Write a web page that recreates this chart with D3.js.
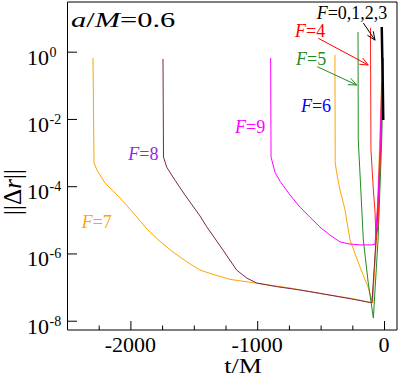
<!DOCTYPE html>
<html>
<head>
<meta charset="utf-8">
<script src="https://cdn.jsdelivr.net/npm/d3@7"></script>
<style>
  body { margin: 0; background: #fff; }
  svg { display: block; }
  svg text { font-family: "Times New Roman", Tinos, "Liberation Serif", Times, serif; }
</style>
</head>
<body>
<svg id="chart" width="399" height="377"></svg>
<script>
// each series: [t/M, ||dr||]
const f7 = [[-2295, 0.65], [-2287, 4.9e-4], [-2263, 3.0e-4], [-2200, 1.24e-4], [-2082, 4.5e-5],
  [-1964, 1.4e-5], [-1869, 5.3e-6], [-1767, 2.3e-6], [-1664, 1.1e-6], [-1554, 5.6e-7],
  [-1451, 3.2e-7], [-1333, 2.3e-7], [-1215, 1.7e-7], [-1002, 1.3e-7], [-741, 9.4e-8],
  [-505, 6.4e-8], [-268, 4.7e-8], [-95, 3.4e-8], [-64, 1.3e-6], [-36, 1.2e-3], [-16, 0.29]];

const f6 = [[-387, 0.8], [-385, 4.9e-4], [-373, 2.5e-4], [-347, 7.7e-5], [-308, 2.0e-5],
  [-268, 2.5e-6], [-190, 4.0e-7], [-126, 1.0e-7], [-89, 3.4e-8], [-56, 8.6e-6],
  [-24, 4.7e-3], [-14, 0.14]];

const f8 = [[-1743, 0.61], [-1739, 7.4e-4], [-1714, 3.7e-4], [-1648, 1.5e-4], [-1570, 5.5e-5],
  [-1451, 1.3e-5], [-1398, 6.2e-6], [-1270, 1.27e-6], [-1162, 3.2e-7], [-1083, 1.86e-7],
  [-1004, 1.32e-7], [-846, 1.03e-7], [-663, 8.2e-8], [-521, 6.7e-8], [-347, 5.1e-8],
  [-205, 4.1e-8], [-95, 3.4e-8], [-53, 9.9e-6], [-24, 2.4e-3], [-12, 0.2]];

const f5 = [[-205, 3.85], [-203, 2.4e-3], [-163, 2.5e-6], [-124, 1.3e-7], [-84, 1.2e-8],
  [-71, 8.2e-8], [-47, 2.5e-6], [-18, 2.4e-3], [-5, 0.65]];

const f4 = [[-107, 5.1], [-103, 1.2e-3], [-84, 7.7e-5], [-71, 1.7e-5], [-63, 2.5e-6],
  [-47, 7e-6], [-28, 1.2e-3], [-16, 0.1]];

const f9 = [[-894, 0.65], [-891, 7.4e-4], [-860, 2.6e-4], [-820, 1.4e-4], [-742, 5.5e-5],
  [-663, 2.4e-5], [-584, 1.2e-5], [-505, 6.1e-6], [-426, 3.5e-6], [-347, 2.2e-6],
  [-268, 1.9e-6], [-189, 1.8e-6], [-97, 1.8e-6], [-71, 1.9e-6], [-47, 3.9e-5],
  [-32, 1.2e-3], [-18, 0.117]];

const f0123 = [[-18, 5.4], [-10, 0.117], [-6, 9.3e-3]];

const xMajor = [-2000, -1000, 0];
const xMinor = [-2250, -1750, -1500, -1250, -750, -500, -250];
const yMajor = [1, 1e-2, 1e-4, 1e-6, 1e-8];
const yExp = ["0", "-2", "-4", "-6", "-8"];

// annotations: label text, colour, anchor point in data units
const labels = [
  { name: "0,1,2,3", color: "#000", t: -531, v: 9.2 },
  { name: "4", color: "#ff0000", t: -702, v: 2.68 },
  { name: "5", color: "#228b22", t: -694, v: 0.40 },
  { name: "6", color: "#0000ff", t: -655, v: 0.0158 },
  { name: "9", color: "#ff00ff", t: -1175, v: 3.7e-3 },
  { name: "8", color: "#8a2be2", t: -2017, v: 6.0e-4 },
  { name: "7", color: "#ffa500", t: -2384, v: 5.6e-6 }
];
const arrows = [
  { color: "#000", from: [-163, 7.1], to: [-71, 2.2] },
  { color: "#ff0000", from: [-518, 2.5], to: [-124, 0.40] },
  { color: "#228b22", from: [-526, 0.358], to: [-215, 0.102] }
];

const svg = d3.select("#chart");
const x = d3.scaleLinear().domain([-2500, 100]).range([67, 396.7]);
const y = d3.scaleLog().domain([5.3e-9, 30]).range([330, 2]);

// ticks (inward)
svg.append("g")
  .attr("transform", "translate(0,330)")
  .call(d3.axisBottom(x).tickValues(xMinor).tickSize(-4.5).tickFormat(""))
  .call((g) => g.select(".domain").remove());
svg.append("g")
  .attr("transform", "translate(0,330)")
  .call(d3.axisBottom(x).tickValues(xMajor).tickSize(-9).tickFormat(""))
  .call((g) => g.select(".domain").remove());
svg.append("g")
  .attr("transform", "translate(67,0)")
  .call(d3.axisLeft(y).tickValues(yMajor).tickSize(-10).tickFormat(""))
  .call((g) => g.select(".domain").remove());

svg.selectAll(".tick line").attr("stroke", "#000");

// frame
svg.append("path")
  .attr("d", "M67.5,2H397V330H67.5Z")
  .attr("fill", "none")
  .attr("stroke", "#000")
  .attr("stroke-width", 1);

// tick labels
svg.selectAll(".xlab")
  .data(xMajor)
  .enter()
  .append("text")
  .attr("x", (d) => x(d))
  .attr("y", 352)
  .attr("text-anchor", "middle")
  .attr("font-size", 22)
  .text((d) => String(d));

yMajor.forEach((d, i) => {
  svg.append("text")
    .attr("x", 49)
    .attr("y", y(d) + 13)
    .attr("text-anchor", "end")
    .attr("font-size", 22)
    .text("10");
  svg.append("text")
    .attr("x", 49.5)
    .attr("y", y(d) + 5)
    .attr("font-size", 14)
    .text(yExp[i]);
});

// axis titles
svg.append("text")
  .attr("transform", "translate(243,373) scale(1.3,1)")
  .attr("text-anchor", "middle")
  .attr("font-size", 20)
  .text("t/M");

const yt = svg.append("text")
  .attr("transform", "translate(21,192) rotate(-90)")
  .attr("text-anchor", "middle")
  .attr("font-size", 25);
yt.append("tspan").text("||Δ");
yt.append("tspan").attr("font-style", "italic").text("r");
yt.append("tspan").text("||");

const title = svg.append("text")
  .attr("transform", "translate(71,27) scale(1.45,1)")
  .attr("font-size", 21);
title.append("tspan").attr("font-style", "italic").text("a");
title.append("tspan").text("/");
title.append("tspan").attr("font-style", "italic").text("M");
title.append("tspan").text("=0.6");

// curves
const line = d3.line().x((d) => x(d[0])).y((d) => y(d[1]));
const series = [
  { data: f7, color: "#ffa500", w: 1 },
  { data: f6, color: "#ffa500", w: 1 },
  { data: f8, color: "#7a2450", w: 1 },
  { data: f5, color: "#228b22", w: 1 },
  { data: f4, color: "#ff2020", w: 1 },
  { data: f9, color: "#ff00ff", w: 1 },
  { data: f0123, color: "#000", w: 2.5 }
];
svg.append("g")
  .selectAll("path")
  .data(series)
  .enter()
  .append("path")
  .attr("d", (d) => line(d.data))
  .attr("fill", "none")
  .attr("stroke", (d) => d.color)
  .attr("stroke-width", (d) => d.w);

// labels
labels.forEach((l) => {
  const t = svg.append("text")
    .attr("x", x(l.t))
    .attr("y", y(l.v))
    .attr("font-size", 18)
    .attr("fill", l.color);
  t.append("tspan").attr("font-style", "italic").text("F");
  t.append("tspan").text("=" + l.name);
});

// arrows
arrows.forEach((a) => {
  const x0 = x(a.from[0]), y0 = y(a.from[1]);
  const x1 = x(a.to[0]), y1 = y(a.to[1]);
  const ang = Math.atan2(y1 - y0, x1 - x0);
  const len = 9, spread = 0.4;
  svg.append("line")
    .attr("x1", x0).attr("y1", y0).attr("x2", x1).attr("y2", y1)
    .attr("stroke", a.color).attr("stroke-width", 1);
  svg.append("path")
    .attr("d", `M${x1 - len * Math.cos(ang - spread)},${y1 - len * Math.sin(ang - spread)}L${x1},${y1}L${x1 - len * Math.cos(ang + spread)},${y1 - len * Math.sin(ang + spread)}`)
    .attr("fill", "none")
    .attr("stroke", a.color)
    .attr("stroke-width", 1);
});
</script>
</body>
</html>
